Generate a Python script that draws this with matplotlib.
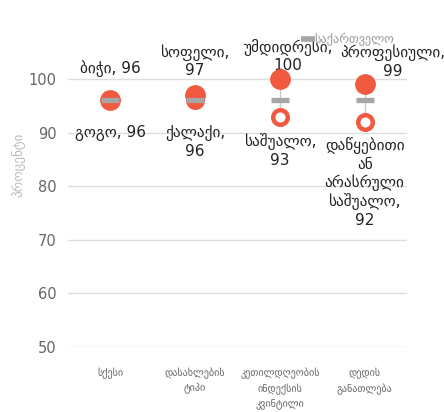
import matplotlib.pyplot as plt
from matplotlib.lines import Line2D

# categories and values
kategoriebi = ["სქესი", "დასახლების\nტიპი", "კეთილდღეობის\nინდექსის\nკვინტილი", "დედის\nგანათლება"]
maghali = [96, 97, 100, 99]
dabali = [96, 96, 93, 92]
sakartvelo = [96, 96, 96, 96]
maghali_etiketi = ["ბიჭი, 96", "სოფელი,\n97", "უმდიდრესი,\n100", "პროფესიული,\n99"]
dabali_etiketi = ["გოგო, 96", "ქალაქი,\n96", "საშუალო,\n93", "დაწყებითი\nან\nარასრული\nსაშუალო,\n92"]

# label offsets in points (x, y) - chosen to avoid overlaps like in the original
zeda_offset = [(0, 17), (0, 12), (6, 4), (20, 4)]
qveda_offset = [(0, -18), (0, -18), (0, -12), (0, -11)]

plt.rcParams['font.family'] = ['DejaVu Sans']
witeli = '#f15a3f'
nacrisferi = '#a6a6a6'

fig = plt.figure(figsize=(4.44, 4.12), dpi=100)
ax = fig.add_axes([68/444, 1-347/412, 339/444, (347-57.6)/412])

x = list(range(len(kategoriebi)))

# range lines
for i in x:
    ax.plot([i, i], [dabali[i], maghali[i]], color='#c8c8c8', lw=1, zorder=2)

ax.scatter(x, dabali, s=110, facecolor='white', edgecolor=witeli, linewidth=3.2, zorder=3)
ax.scatter(x, maghali, s=195, color=witeli, zorder=4, clip_on=False)
ax.plot(x, sakartvelo, linestyle='none', marker='_', markersize=13, mew=3.8,
        color=nacrisferi, zorder=5)

# labels
for i in x:
    ax.annotate(maghali_etiketi[i], (i, maghali[i]), xytext=zeda_offset[i], textcoords='offset points',
                ha='center', va='bottom', fontsize=11, color='#222222', annotation_clip=False,
                linespacing=1.2)
    ax.annotate(dabali_etiketi[i], (i, dabali[i]), xytext=qveda_offset[i], textcoords='offset points',
                ha='center', va='top', fontsize=11, color='#222222', annotation_clip=False,
                linespacing=1.2)

ax.set_xlim(-0.5, 3.5)
ax.set_ylim(50, 104)
ax.set_yticks([50, 60, 70, 80, 90, 100])
ax.set_xticks(x)
ax.set_xticklabels(kategoriebi, fontsize=7.3, color='#666666', linespacing=1.5)
ax.tick_params(axis='x', length=0, pad=15)
ax.tick_params(axis='y', length=0, pad=8, labelsize=10.5, labelcolor='#666666')
ax.grid(axis='y', color='#dddddd', lw=1)
ax.set_axisbelow(True)
for s in ax.spines.values():
    s.set_visible(False)
ax.set_ylabel('პროცენტი', color='#bbbbbb', fontsize=9.5)
ax.yaxis.set_label_coords(-0.125, 0.63)

# legend
leg = [Line2D([0], [0], linestyle='none', marker='_', markersize=10, mew=4, color=nacrisferi)]
fig.legend(leg, ['საქართველო'], loc='center left', bbox_to_anchor=(293/444, 1-40/412),
           frameon=False, fontsize=8.8, labelcolor='#999999', handletextpad=-0.3,
           handlelength=1.5, borderpad=0)

fig.savefig('out.png', dpi=100)
